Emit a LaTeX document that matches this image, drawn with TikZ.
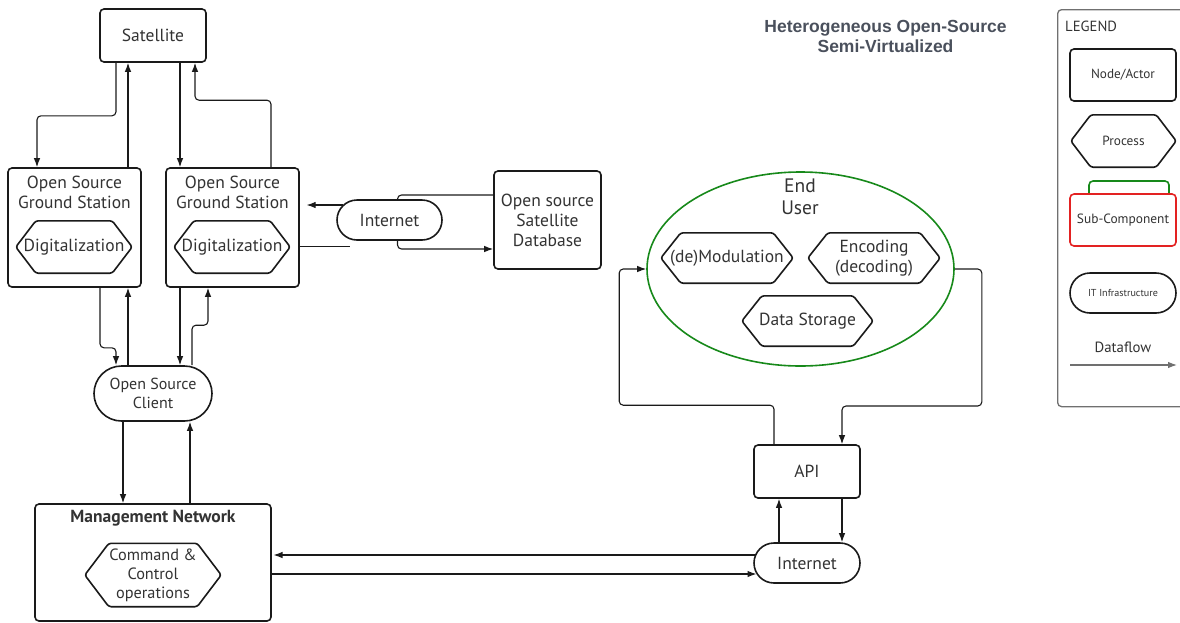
\documentclass[tikz,border=0pt]{standalone}
\usepackage{fontspec}
\setmainfont{PT Sans}
\newfontfamily\titlefont{Liberation Sans}
\usetikzlibrary{arrows.meta,shapes.geometric}
\definecolor{ink}{HTML}{1A1A1A}
\definecolor{txt}{HTML}{333333}
\definecolor{ttl}{HTML}{4A505C}
\definecolor{frame}{HTML}{707070}
\definecolor{eugreen}{HTML}{17891A}
\definecolor{subred}{HTML}{E32222}
\newcommand\fsz[2]{\fontsize{#1}{#2}\selectfont}
% hexagonal "process" outline around a named node, #2 = point depth
\newcommand\hexoutline[2]{%
  \draw[hexline] (#1.west) -- ([xshift=#2]#1.north west) -- ([xshift=-#2]#1.north east)
    -- (#1.east) -- ([xshift=-#2]#1.south east) -- ([xshift=#2]#1.south west) -- cycle;}
\tikzset{
  box/.style={draw=ink, line width=1.6pt, rounded corners=4pt, fill=white, inner sep=0pt,
    text=txt, align=center, font=\fsz{17.5}{20}},
  pill/.style={box, rounded corners=#1},
  hexa/.style={inner sep=0pt, text=txt, align=center, font=\fsz{17.5}{20}},
  hexline/.style={draw=ink, line width=1.6pt, rounded corners=2.5pt},
  lbl/.style={inner sep=0pt, text=txt, align=center, font=\fsz{17.5}{20}},
  link/.style={draw=ink, line width=1.1pt, rounded corners=4pt},
  flow/.style={link, -{Latex[length=9pt,width=6.5pt]}},
}
\begin{document}
\begin{tikzpicture}[x=1pt,y=-1pt]
\useasboundingbox (0,0) rectangle (1180,622);
\clip (0,0) rectangle (1180,622);

% ---------- left part: satellite segment ----------
\node[box, minimum width=106pt, minimum height=53pt] (sat) at (153,35.5) {Satellite};

\node[box, minimum width=133pt, minimum height=119pt] (gs1) at (74.5,227.5) {};
\node[lbl] (gs1t) at (74.5,192) {Open Source\\Ground Station};
\node[hexa, minimum width=116pt, minimum height=52pt] (dg1) at (74,247) {Digitalization};
\hexoutline{dg1}{20pt}

\node[box, minimum width=133pt, minimum height=119pt] (gs2) at (232.5,227.5) {};
\node[lbl] (gs2t) at (232.5,192) {Open Source\\Ground Station};
\node[hexa, minimum width=116pt, minimum height=52pt] (dg2) at (232,247) {Digitalization};
\hexoutline{dg2}{20pt}

\node[pill=20pt, minimum width=105pt, minimum height=40pt] (inet1) at (389.5,220) {Internet};
\node[box, minimum width=107pt, minimum height=98pt] (db) at (547.5,220) {Open source\\Satellite\\Database};

\node[pill=27.5pt, minimum width=118pt, minimum height=55pt, font=\fsz{16}{19}] (cli) at (153,393.5) {Open Source\\Client};

\node[box, minimum width=236pt, minimum height=117pt] (mn) at (153,562.5) {};
\node[lbl, font=\bfseries\fsz{17.5}{20}] (mnt) at (153,518) {Management Network};
\node[hexa, minimum width=136pt, minimum height=63pt, font=\fsz{16.3}{19}] (cc) at (153,575) {Command \&\\Control\\operations};
\hexoutline{cc}{24pt}

% ---------- right part: end user segment ----------
\node[ellipse, draw=eugreen, line width=1.6pt, minimum width=307pt, minimum height=194pt, inner sep=0pt] (eu) at (800.5,269) {};
\node[lbl, font=\fsz{19.5}{22}] (eut) at (800,197) {End\\User};
\node[hexa, minimum width=132pt, minimum height=50pt] (dmod) at (727,258) {(de)Modulation};
\hexoutline{dmod}{20pt}
\node[hexa, minimum width=132pt, minimum height=50pt] (enc) at (874,258) {Encoding\\(decoding)};
\hexoutline{enc}{20pt}
\node[hexa, minimum width=131pt, minimum height=50pt] (dst) at (807.5,321) {Data Storage};
\hexoutline{dst}{20pt}

\node[box, minimum width=106pt, minimum height=53pt] (api) at (807,471.5) {API};
\node[pill=20pt, minimum width=106pt, minimum height=40pt] (inet2) at (807,563) {Internet};

% ---------- title ----------
\node[inner sep=0pt, align=center, text=ttl, font=\titlefont\bfseries\fsz{17.5}{20}] (title) at (885.5,36) {Heterogeneous Open-Source\\Semi-Virtualized};

% ---------- legend ----------
\node[draw=frame, line width=1.3pt, rounded corners=4pt, minimum width=150pt, minimum height=397pt, anchor=north west, inner sep=0pt] (leg) at (1057,9) {};
\node[inner sep=0pt, anchor=west, text=txt, font=\fsz{14.7}{16}] (legt) at (1065,26) {LEGEND};
\node[box, minimum width=106pt, minimum height=52pt, font=\fsz{13.2}{15}] (lgnode) at (1123,75) {Node/Actor};
\node[hexa, minimum width=105pt, minimum height=52pt, font=\fsz{13.3}{15}] (lgproc) at (1123.5,141) {Process};
\hexoutline{lgproc}{20pt}
\draw[draw=eugreen, line width=1.6pt, rounded corners=4pt] (1089,194) -- (1089,181) -- (1169,181) -- (1169,194);
\node[box, draw=subred, minimum width=106pt, minimum height=52pt, font=\fsz{13.4}{15}] (lgsub) at (1123,220) {Sub-Component};
\node[pill=20pt, minimum width=106pt, minimum height=40pt, font=\fsz{10.1}{12}] (lgit) at (1123,293) {IT Infrastructure};
\node[lbl, font=\fsz{14.8}{17}] (lgflow) at (1123,347) {Dataflow};
\coordinate (lga) at (1070,365);
\coordinate (lgb) at (1177,365);
\draw[draw=frame, line width=1.1pt, -{Latex[length=9pt,width=6.5pt]}] (lga) -- (lgb);

% ---------- connectors: satellite <-> ground stations ----------
\draw[flow] ([xshift=-37pt]sat.south) -- ++(0,53) -| ([xshift=-37.5pt]gs1.north);
\draw[flow] ([xshift=53.5pt]gs1.north) -- ([xshift=53.5pt]gs1.north |- sat.south);
\draw[flow] ([xshift=27pt]sat.south) -- ([xshift=27pt]sat.south |- gs2.north);
\draw[flow] ([xshift=38.5pt]gs2.north) -- ++(0,-67) -| ([xshift=42pt]sat.south);

% ---------- ground station 2 <-> internet <-> database ----------
\draw[link] ([yshift=25pt]db.west) -| ([xshift=8pt]inet1.north);
\draw[flow] ([xshift=6.8pt,yshift=15pt]inet1.west) -- ([xshift=6.8pt,yshift=15pt]inet1.west -| gs2.east);
\draw[link] ([yshift=-19pt]gs2.east) -- ([yshift=-19pt]gs2.east -| inet1.west) -- ++(13.8,0);
\draw[flow] ([xshift=8pt]inet1.south) |- ([yshift=-29pt]db.west);

% ---------- ground stations <-> client ----------
\draw[flow] ([xshift=25.5pt]gs1.south) -- ++(0,60) -| ([xshift=-37pt]cli.north);
\draw[flow] ([xshift=-25pt]cli.north) -- ([xshift=-25pt]cli.north |- gs1.south);
\draw[flow] ([xshift=-52.5pt]gs2.south) -- ([xshift=-52.5pt]gs2.south |- cli.north);
\draw[flow] ([xshift=39pt]cli.north) -- ++(0,-40) -| ([xshift=-24.5pt]gs2.south);

% ---------- client <-> management network ----------
\draw[flow] ([xshift=-30pt]cli.south) -- ([xshift=-30pt]cli.south |- mn.north);
\draw[flow] ([xshift=37pt]mn.north) -- ([xshift=37pt]mn.north |- cli.south);

% ---------- management network <-> internet ----------
\draw[flow] ([xshift=1.7pt,yshift=8pt]inet2.west) -- ([xshift=1.7pt,yshift=8pt]inet2.west -| mn.east);
\draw[flow] ([yshift=-11pt]inet2.west -| mn.east) -- ([xshift=3.3pt,yshift=-11pt]inet2.west);

% ---------- internet <-> API <-> end user ----------
\draw[flow] ([xshift=-28pt]inet2.north) -- ([xshift=-28pt]inet2.north |- api.south);
\draw[flow] ([xshift=35pt]api.south) -- ([xshift=35pt]api.south |- inet2.north);
\draw[flow] ([xshift=-33pt]api.north) -- ++(0,-39) -| ([xshift=-27pt]eu.west) -- (eu.west);
\draw[flow] (eu.east) -- ++(27,0) -- ++(0,137) -| ([xshift=35pt]api.north);
\end{tikzpicture}
\end{document}
